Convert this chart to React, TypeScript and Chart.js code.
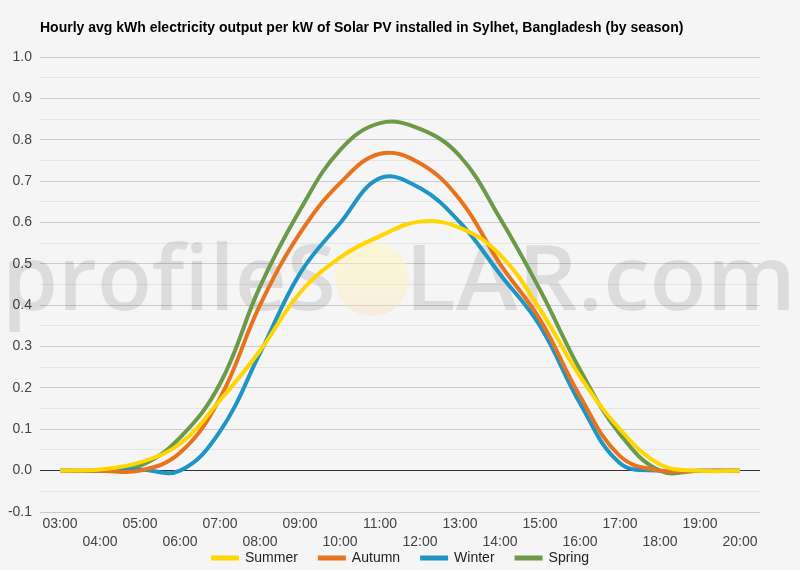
import React, { useEffect, useRef } from 'react';
import { Chart, registerables } from 'chart.js';

Chart.register(...registerables);

const TITLE = 'Hourly avg kWh electricity output per kW of Solar PV installed in Sylhet, Bangladesh (by season)';
const WATERMARK_LEFT = 'profileS';
const WATERMARK_RIGHT = 'LAR.com';

const hours = ['03:00', '04:00', '05:00', '06:00', '07:00', '08:00', '09:00', '10:00', '11:00', '12:00', '13:00', '14:00', '15:00', '16:00', '17:00', '18:00', '19:00', '20:00'];
const seasons = ['Summer', 'Autumn', 'Winter', 'Spring'];
const summer = [0, 0.003, 0.02, 0.065, 0.17, 0.29, 0.43, 0.515, 0.567, 0.602, 0.587, 0.522, 0.39, 0.228, 0.1, 0.015, 0, 0];
const autumn = [0, 0, 0, 0.043, 0.175, 0.4, 0.574, 0.695, 0.766, 0.743, 0.655, 0.5, 0.365, 0.18, 0.035, 0, 0, 0];
const winter = [0, 0, 0.003, 0, 0.095, 0.284, 0.477, 0.598, 0.707, 0.683, 0.6, 0.475, 0.35, 0.163, 0.018, 0, 0, 0];
const spring = [0, 0, 0.012, 0.08, 0.21, 0.445, 0.63, 0.775, 0.84, 0.826, 0.76, 0.61, 0.437, 0.244, 0.088, 0, 0, 0];
const seriesValues = [summer, autumn, winter, spring];
const seriesColors = ['#FFD600', '#E8731E', '#1E95C4', '#6C9A48'];
const yMin = -0.1;
const yMax = 1.0;
const yStep = 0.05;

const FONT = '"Liberation Sans", Arial, sans-serif';
const BG = '#f5f5f5';

const decorPlugin = {
  id: 'decor',
  beforeDraw(chart: any) {
    const { ctx, width, height } = chart;
    ctx.save();
    ctx.fillStyle = BG;
    ctx.fillRect(0, 0, width, height);
    ctx.restore();
  },
  beforeDatasetsDraw(chart: any) {
    const { ctx } = chart;
    ctx.save();
    // sun circle
    const cx = 372, cy = 279, r = 37;
    const g = ctx.createLinearGradient(cx, cy - r, cx, cy + r);
    g.addColorStop(0, 'rgba(255, 246, 175, 0.45)');
    g.addColorStop(0.6, 'rgba(255, 240, 185, 0.45)');
    g.addColorStop(1, 'rgba(250, 222, 195, 0.45)');
    ctx.fillStyle = g;
    ctx.beginPath();
    ctx.arc(cx, cy, r, 0, Math.PI * 2);
    ctx.fill();
    // watermark text
    ctx.fillStyle = 'rgba(0,0,0,0.1)';
    ctx.font = '600 91px "Open Sans", sans-serif';
    ctx.textBaseline = 'alphabetic';
    ctx.textAlign = 'left';
    const drawFit = (txt: string, x0: number, x1: number, base: number) => {
      const w = ctx.measureText(txt).width;
      ctx.save();
      ctx.translate(x0, base);
      ctx.scale((x1 - x0) / w, 1);
      ctx.fillText(txt, 0, 0);
      ctx.restore();
    };
    drawFit(WATERMARK_LEFT, 2, 336, 310);
    drawFit(WATERMARK_RIGHT, 405, 796, 310);
    ctx.restore();
  },
  afterDraw(chart: any) {
    const { ctx, chartArea } = chart;
    ctx.save();
    ctx.fillStyle = '#000';
    ctx.font = 'bold 14px ' + FONT;
    ctx.textBaseline = 'middle';
    ctx.textAlign = 'left';
    ctx.fillText(TITLE, chartArea.left, 28);
    // legend
    ctx.font = '14px ' + FONT;
    const boxW = 28, boxH = 5, gapBT = 6, gapItems = 20;
    const widths = seasons.map((s) => boxW + gapBT + ctx.measureText(s).width);
    const total = widths.reduce((a, b) => a + b, 0) + gapItems * (seasons.length - 1);
    let x = chart.width / 2 - total / 2;
    const y = 558;
    seasons.forEach((s, i) => {
      ctx.fillStyle = seriesColors[i];
      ctx.fillRect(x, y - boxH / 2, boxW, boxH);
      ctx.fillStyle = '#222';
      ctx.fillText(s, x + boxW + gapBT, y);
      x += widths[i] + gapItems;
    });
    ctx.restore();
  },
};

export default function App() {
  const ref = useRef<HTMLCanvasElement | null>(null);
  useEffect(() => {
    document.body.style.margin = '0';
    document.body.style.background = BG;
    const canvas = ref.current;
    if (!canvas) return;
    const chart = new Chart(canvas, {
      type: 'line',
      data: {
        labels: hours,
        datasets: seasons.map((s, i) => ({
          label: s,
          data: seriesValues[i],
          borderColor: seriesColors[i],
          backgroundColor: seriesColors[i],
          borderWidth: 4,
          pointRadius: 0,
          tension: 0.4,
          fill: false,
        })),
      },
      options: {
        responsive: false,
        animation: false,
        layout: { padding: { top: 57, right: 40, bottom: 18, left: 0 } },
        plugins: {
          legend: { display: false },
          title: { display: false },
          tooltip: { enabled: false },
        },
        scales: {
          x: {
            offset: true,
            grid: { display: false, drawTicks: false },
            border: { display: false },
            afterFit: (scale: any) => { scale.height = 40; },
            ticks: {
              autoSkip: false,
              maxRotation: 0,
              minRotation: 0,
              padding: 3,
              color: '#444',
              font: { family: FONT, size: 14, lineHeight: 1.3 },
              callback: function (this: any, value: any, index: number) {
                const lab = this.getLabelForValue(value);
                return index % 2 === 0 ? [lab, ''] : ['', lab];
              },
            },
          },
          y: {
            min: yMin,
            max: yMax,
            afterFit: (scale: any) => { scale.width = 40; },
            border: { display: false },
            grid: {
              drawTicks: false,
              color: (c: any) => {
                const v = c.tick ? c.tick.value : 0;
                const k = Math.round(v / yStep);
                if (k === 0) return '#333';
                return k % 2 === 0 ? '#cccccc' : '#e6e6e6';
              },
            },
            ticks: {
              stepSize: yStep,
              autoSkip: false,
              padding: 8,
              color: '#444',
              font: { family: FONT, size: 14 },
              callback: (v: any) => {
                const k = Math.round(Number(v) / yStep);
                return k % 2 === 0 ? (k * yStep).toFixed(1) : '';
              },
            },
          },
        },
      },
      plugins: [decorPlugin],
    });
    return () => chart.destroy();
  }, []);
  return (
    <div style={{ width: 800, height: 570, background: BG }}>
      <canvas ref={ref} width={800} height={570} style={{ display: 'block' }} />
    </div>
  );
}
